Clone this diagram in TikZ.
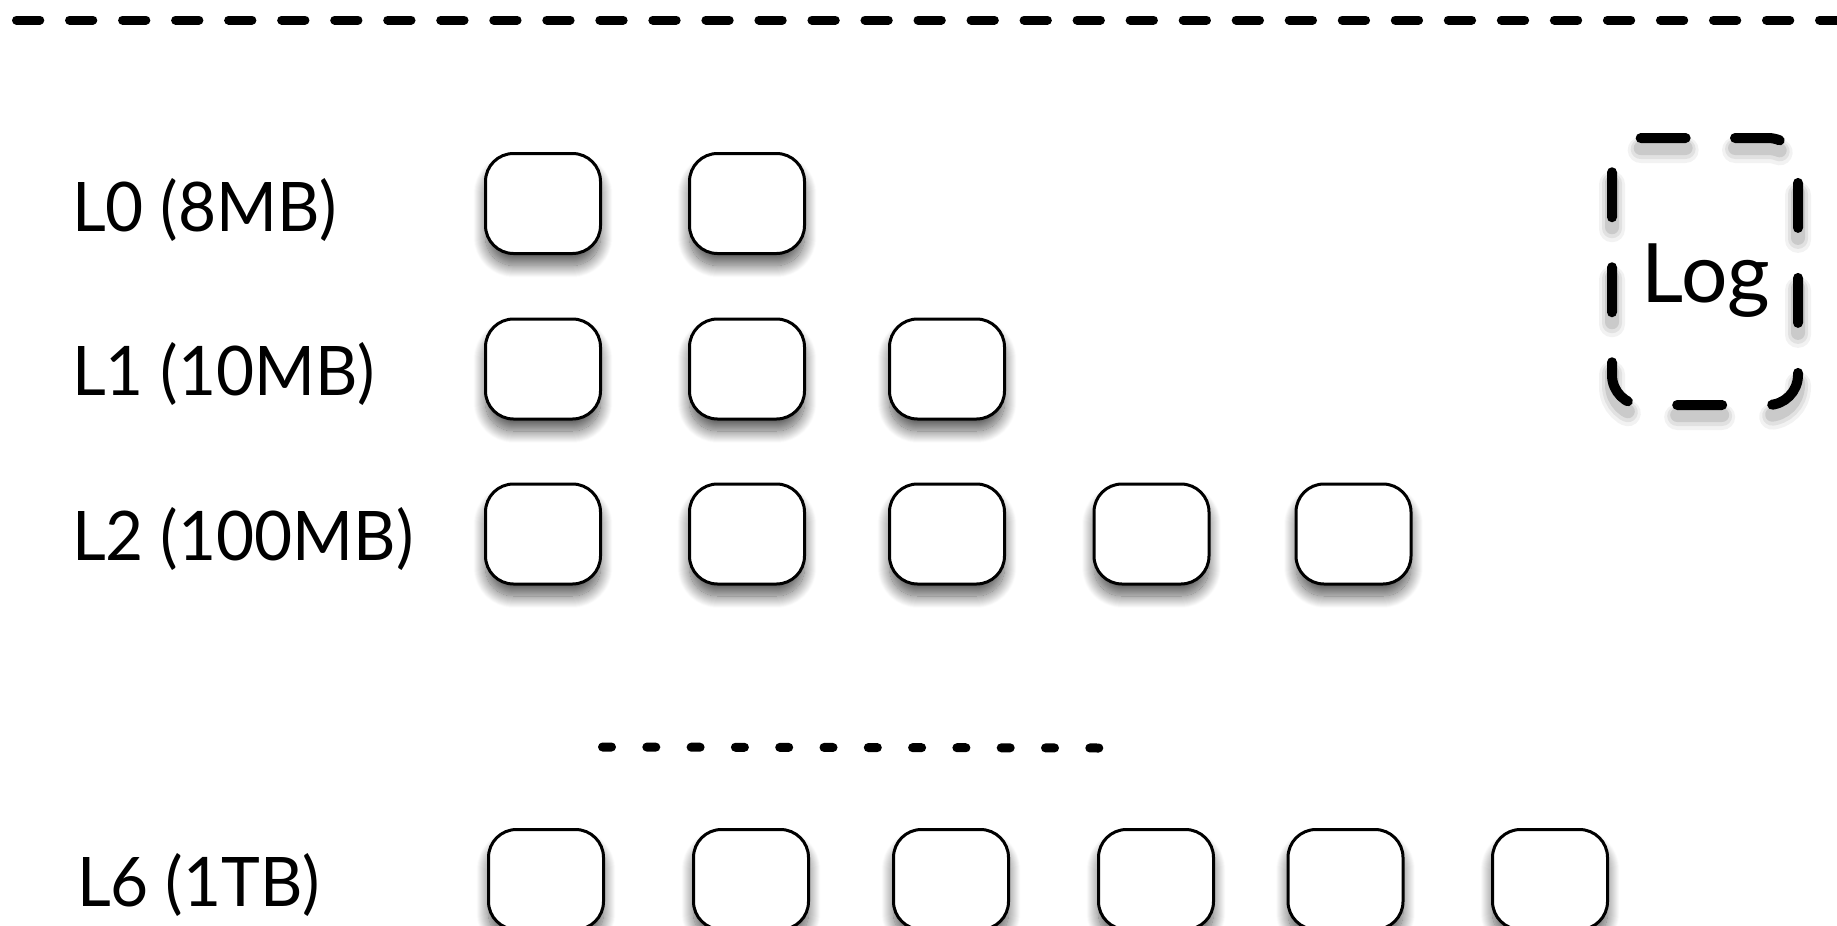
\documentclass[tikz,border=0pt]{standalone}
\usepackage{fontspec}
\setmainfont{Lato}
\newfontfamily\levelfont{Lato}[FakeStretch=0.96]
\usetikzlibrary{shadows.blur}
\begin{document}
\begin{tikzpicture}[x=1pt,y=-1pt,
  blockbox/.style={draw=black, line width=3pt, fill=white, rounded corners=28pt,
    minimum width=115pt, minimum height=100pt, inner sep=0pt,
    blur shadow={shadow xshift=0pt, shadow yshift=-12pt, shadow blur radius=12pt,
      shadow blur steps=24, shadow opacity=65}},
  levellabel/.style={anchor=base west, inner sep=0pt, font=\levelfont\fontsize{68.4}{80}\selectfont},
  sepline/.style={line width=9pt, line cap=round},
  logframe/.style={line cap=round, dash pattern=on 45pt off 50pt, dash phase=65pt}]
\useasboundingbox (0,0) rectangle (1837,926);

% top dashed separator
\coordinate (tl) at (0,20);
\coordinate (tr) at (1837,20);
\draw[sepline, dash pattern=on 23.3pt off 29.73pt, dash phase=36.53pt] (tl) -- (tr);

% level labels
\node[levellabel] (l0) at (72,231) {L0 (8MB)};
\node[levellabel] (l1) at (72,395) {L1 (10MB)};
\node[levellabel] (l2) at (72,560) {L2 (100MB)};
\node[levellabel] (l6) at (77,906) {L6 (1TB)};

% blocks
\foreach \c [count=\i] in {543,747}
  \node[blockbox] (b0\i) at (\c,203.5) {};
\foreach \c [count=\i] in {543,747,947}
  \node[blockbox] (b1\i) at (\c,369) {};
\foreach \c [count=\i] in {543,747,947,1151.5,1353.5}
  \node[blockbox] (b2\i) at (\c,534) {};
\foreach \c [count=\i] in {546,751,951,1156,1345.5,1550}
  \node[blockbox] (b6\i) at (\c,879.5) {};

% dotted separator
\coordinate (dl) at (602.5,747);
\coordinate (dr) at (1101,748);
\draw[sepline, dash pattern=on 9pt off 35.3pt] (dl) -- (dr);

% log frame with soft shadow
\foreach \w/\o/\dy in {26/0.05/12,20/0.07/11,14/0.10/10}
  \draw[logframe, line width=\w pt, draw=black, opacity=\o, shift={(0,\dy)}]
    (1705,138) -- (1768,138) arc[start angle=-90, end angle=0, radius=30]
    -- (1798,375) arc[start angle=0, end angle=90, radius=30]
    -- (1642,405) arc[start angle=90, end angle=180, radius=30]
    -- (1612,168) arc[start angle=180, end angle=270, radius=30] -- cycle;
\draw[logframe, line width=10pt, draw=black]
    (1705,138) -- (1768,138) arc[start angle=-90, end angle=0, radius=30]
    -- (1798,375) arc[start angle=0, end angle=90, radius=30]
    -- (1642,405) arc[start angle=90, end angle=180, radius=30]
    -- (1612,168) arc[start angle=180, end angle=270, radius=30] -- cycle;
\node[anchor=base, inner sep=0pt, font=\fontsize{82}{96}\selectfont] (log) at (1706,302) {Log};
\end{tikzpicture}
\end{document}
